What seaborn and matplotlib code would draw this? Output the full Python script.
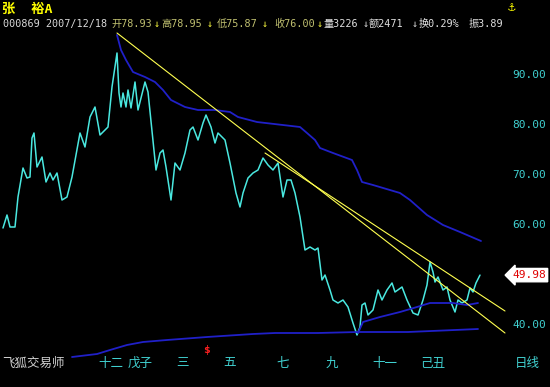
import numpy as np
import pandas as pd
import seaborn as sns
import matplotlib.pyplot as plt

# 张裕A 000869 daily closes (x = bar index)
bar = [3, 7, 10, 15, 18, 23, 27, 30, 32, 34, 37, 42, 46, 50, 53, 57, 62, 67, 72, 80,
       85, 90, 95, 100, 108, 112, 117, 119, 121, 123, 126, 128, 131, 135, 138, 145, 148, 156, 160, 163,
       166, 171, 175, 180, 185, 190, 193, 198, 203, 206, 211, 215, 218, 225, 230, 236, 240, 243, 248, 253,
       258, 263, 268, 273, 278, 283, 287, 291, 295, 300, 305, 310, 315, 318, 322, 325, 330, 333, 338, 343,
       348, 353, 357, 360, 362, 365, 368, 373, 378, 382, 387, 392, 395, 402, 407, 413, 418, 423, 427, 430,
       433, 435, 438, 443, 447, 450, 455, 458, 462, 467, 470, 473, 476, 480]
close = [59.4, 62.0, 59.6, 59.6, 65.6, 71.4, 69.4, 69.6, 77.4, 78.4, 71.6, 73.6, 68.6, 70.4, 69.0, 70.4, 65.0, 65.6, 69.6, 78.4,
         75.6, 81.6, 83.6, 78.0, 79.6, 87.6, 94.4, 86.4, 83.6, 86.4, 83.6, 87.0, 83.4, 88.6, 83.0, 88.6, 86.6, 71.0, 74.4, 75.0,
         71.6, 65.0, 72.4, 71.0, 74.4, 79.0, 79.6, 77.0, 80.4, 82.0, 79.6, 76.4, 78.4, 77.0, 72.4, 66.4, 63.6, 66.4, 69.4, 70.4,
         71.0, 73.4, 72.0, 71.0, 72.4, 65.6, 69.0, 69.0, 66.4, 61.6, 55.0, 55.6, 55.0, 55.4, 49.0, 50.0, 47.0, 45.0, 44.4, 45.0,
         43.6, 40.4, 38.0, 39.6, 44.0, 44.4, 42.0, 43.0, 47.0, 45.0, 47.0, 48.4, 46.6, 47.6, 45.0, 42.4, 42.0, 45.0, 48.0, 52.6,
         50.6, 48.6, 49.6, 47.0, 47.6, 45.0, 42.6, 45.0, 44.4, 45.0, 47.4, 46.6, 48.4, 49.98]

# moving averages
ma_hi_bar = [117, 121, 126, 133, 145, 155, 163, 171, 185, 198, 215, 230, 238, 257, 300, 307, 315, 320, 333, 352,
             357, 362, 373, 400, 410, 427, 443, 460, 481]
ma_hi = [98.0, 95.0, 93.0, 90.6, 89.6, 88.6, 87.0, 85.0, 83.6, 83.0, 83.0, 82.6, 81.6, 80.6, 79.6, 78.4, 77.0, 75.4, 74.4, 73.0,
         71.0, 68.6, 68.0, 66.4, 65.0, 62.0, 60.0, 58.6, 56.8]
ma_mid_bar = [358, 363, 380, 400, 417, 430, 453, 467, 478]
ma_mid = [38.4, 40.6, 41.6, 42.6, 43.6, 44.4, 44.4, 44.0, 44.4]
ma_lo_bar = [72, 97, 110, 127, 143, 167, 207, 253, 275, 318, 358, 408, 455, 478]
ma_lo = [33.6, 34.2, 35.0, 36.0, 36.6, 37.0, 37.6, 38.2, 38.4, 38.4, 38.6, 38.6, 39.0, 39.2]

# trend lines (two end points each)
trend1_bar = [117, 505]
trend1 = [98.4, 38.4]
trend2_bar = [265, 505]
trend2 = [74.4, 42.8]

price_ticks = [90, 80, 70, 60, 40]
month_pos = [111, 140, 182, 230, 283, 332, 385, 433]
month_lab = ['十二', '戊子', '三', '五', '七', '九', '十一', '己丑']
last_price = 49.98

sns.set_style('dark', {'axes.facecolor': 'black', 'figure.facecolor': 'black'})
plt.rcParams['font.family'] = ['DejaVu Sans Mono', 'Noto Sans CJK SC']

W, H = 550, 387
fig = plt.figure(figsize=(5.5, 3.87), dpi=100, facecolor='black')
ax = fig.add_axes([0, 0, 1, 1])
ax.set_facecolor('black')


def val(ypx):
    # screen pixel row -> price
    return 90 - (ypx - 75) / 5.0


ax.set_xlim(0, W)
ax.set_ylim(val(H), val(0))
ax.axis('off')

df = pd.DataFrame({'bar': bar, 'close': close})
sns.lineplot(data=df, x='bar', y='close', ax=ax, color='#4ae8e0', lw=1.1, sort=False, estimator=None)
sns.lineplot(x=ma_hi_bar, y=ma_hi, ax=ax, color='#2020c8', lw=1.3, sort=False, estimator=None)
sns.lineplot(x=ma_mid_bar, y=ma_mid, ax=ax, color='#2020c8', lw=1.3, sort=False, estimator=None)
sns.lineplot(x=ma_lo_bar, y=ma_lo, ax=ax, color='#2020c8', lw=1.3, sort=False, estimator=None)
sns.lineplot(x=trend1_bar, y=trend1, ax=ax, color='#ffff50', lw=0.8, sort=False, estimator=None)
sns.lineplot(x=trend2_bar, y=trend2, ax=ax, color='#ffff50', lw=0.8, sort=False, estimator=None)

# right price scale
for p in price_ticks:
    ax.text(546, p, '%.2f' % p, color='#40d0d0', fontsize=8, ha='right', va='center')
ax.text(546, last_price, '%.2f' % last_price, color='#e00000', fontsize=8, ha='right', va='center',
        bbox=dict(boxstyle='larrow,pad=0.15', fc='white', ec='white'))

# month labels
for m, lab in zip(month_pos, month_lab):
    ax.text(m, val(363), lab, color='#40d0d0', fontsize=9, ha='center', va='center')
ax.text(527, val(363), '日线', color='#40d0d0', fontsize=9, ha='center', va='center')
ax.text(2, val(363), '飞狐交易师', color='#d0d0d0', fontsize=9, ha='left', va='center')
ax.text(207, val(350), '\\$', color='#ff2020', fontsize=8, ha='center', va='center', fontweight='bold')


def ftxt(x, y, s, c, **kw):
    fig.text(x / W, 1 - y / H, s, color=c, fontsize=kw.pop('size', 7.3), va='center', ha='left', **kw)


# header
ftxt(2, 9, '张  裕A', '#ffff00', size=9.5, fontweight='bold')
ftxt(508, 7, '⚓', '#ffff00', size=9, fontweight='bold')
ftxt(3, 24, '000869 2007/12/18', '#d8d8d8')
segs = [(111, '开78.93', '#c0c070'), (154, '↓', '#ffff40'),
        (161, '高78.95', '#c0c070'), (207, '↓', '#ffff40'),
        (217, '低75.87', '#c0c070'), (262, '↓', '#ffff40'),
        (274, '收76.00', '#c0c070'), (317, '↓', '#ffff40'),
        (324, '量3226', '#e0e0e0'), (363, '↓', '#e0e0e0'),
        (369, '额2471', '#e0e0e0'), (412, '↓', '#e0e0e0'),
        (419, '换0.29%', '#e0e0e0'), (469, '振3.89', '#e0e0e0')]
for x, s, c in segs:
    ftxt(x, 24, s, c)

fig.savefig('out.png', dpi=100, facecolor='black')
